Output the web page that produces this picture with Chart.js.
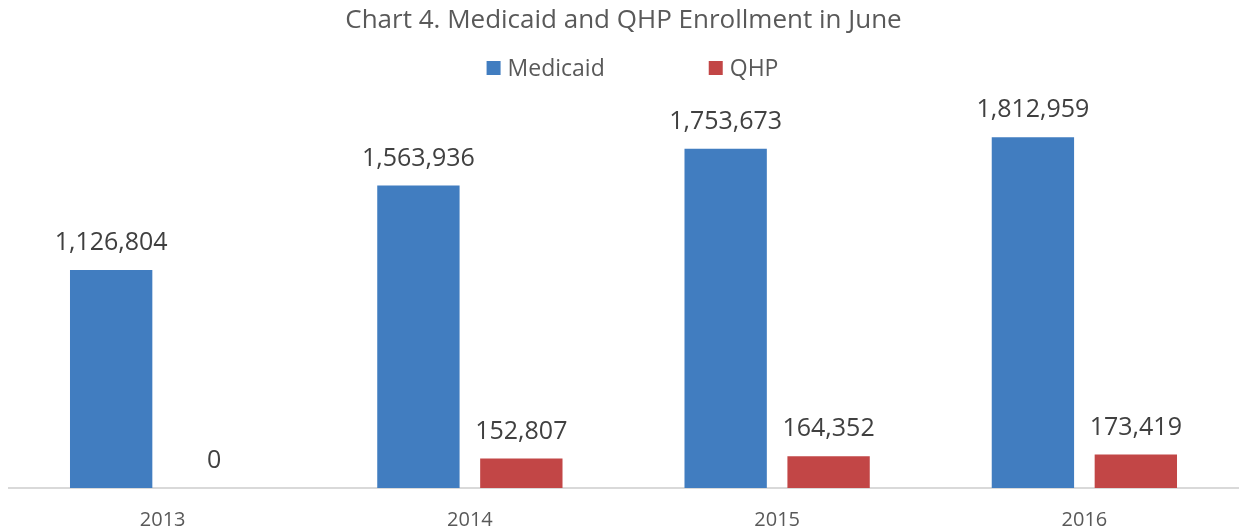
<!DOCTYPE html>
<html>
<head>
<meta charset="utf-8">
<title>Chart 4. Medicaid and QHP Enrollment in June</title>
<script src="https://cdn.jsdelivr.net/npm/chart.js@4.4.1/dist/chart.umd.min.js"></script>
<style>
  html, body { margin: 0; padding: 0; background: #fff; }
  #wrap { width: 1239px; height: 531px; }
</style>
</head>
<body>
<div id="wrap"><canvas id="chart"></canvas></div>
<script>
// ── Data ────────────────────────────────────────────────────────────────
const years     = ['2013', '2014', '2015', '2016'];
const medicaid  = [1126804, 1563936, 1753673, 1812959];
const qhp       = [0, 152807, 164352, 173419];
const yTicksMax = 2000000;

const FONT = "'Open Sans', 'Liberation Sans', sans-serif";
const BLUE = '#417DC0';
const RED  = '#C24646';

// ── Value labels above each bar ─────────────────────────────────────────
const barLabels = {
  id: 'barLabels',
  afterDatasetsDraw(chart) {
    const ctx = chart.ctx;
    ctx.save();
    ctx.font = `25px ${FONT}`;
    ctx.fillStyle = '#404040';
    ctx.textAlign = 'center';
    ctx.textBaseline = 'middle';
    chart.data.datasets.forEach((ds, i) => {
      chart.getDatasetMeta(i).data.forEach((bar, j) => {
        ctx.fillText(ds.data[j].toLocaleString('en-US'), bar.x, bar.y - 27);
      });
    });
    ctx.restore();
  }
};

// ── Legend drawn by hand so the wide gap between items can be kept ─────
const wideLegend = {
  id: 'wideLegend',
  afterDraw(chart) {
    const ctx = chart.ctx;
    const box = 14, gap = 7, spacing = 104, y = 68, shift = 9;
    ctx.save();
    ctx.font = `23px ${FONT}`;
    ctx.textBaseline = 'middle';
    const items = chart.data.datasets.map(ds => ({
      text: ds.label, color: ds.backgroundColor, w: ctx.measureText(ds.label).width
    }));
    const total = items.reduce((s, it) => s + box + gap + it.w, 0) + spacing * (items.length - 1);
    const mid = (chart.chartArea.left + chart.chartArea.right) / 2 + shift;
    let x = mid - total / 2;
    items.forEach(it => {
      ctx.fillStyle = it.color;
      ctx.fillRect(x, y - box / 2, box, box);
      ctx.fillStyle = '#595959';
      ctx.fillText(it.text, x + box + gap, y + 1);
      x += box + gap + it.w + spacing;
    });
    ctx.restore();
  }
};

new Chart(document.getElementById('chart'), {
  type: 'bar',
  data: {
    labels: years,
    datasets: [
      { label: 'Medicaid', data: medicaid, backgroundColor: BLUE,
        barPercentage: 0.8, categoryPercentage: 0.67 },
      { label: 'QHP', data: qhp, backgroundColor: RED,
        barPercentage: 0.8, categoryPercentage: 0.67 }
    ]
  },
  options: {
    responsive: true,
    maintainAspectRatio: false,
    animation: false,
    layout: { padding: { left: 9, right: 1, top: 0, bottom: -21 } },
    plugins: {
      legend: { display: false },
      tooltip: { enabled: false },
      title: {
        display: true,
        text: 'Chart 4. Medicaid and QHP Enrollment in June',
        color: '#595959',
        font: { family: FONT, size: 26, weight: 'normal' },
        padding: { top: 5, bottom: 65 }
      }
    },
    scales: {
      x: {
        grid: { display: false, drawTicks: false },
        border: { display: true, color: '#D9D9D9', width: 2 },
        ticks: { color: '#595959', font: { family: FONT, size: 20 }, padding: 20 }
      },
      y: {
        display: false,
        min: 0,
        max: yTicksMax
      }
    }
  },
  plugins: [barLabels, wideLegend]
});
</script>
</body>
</html>
